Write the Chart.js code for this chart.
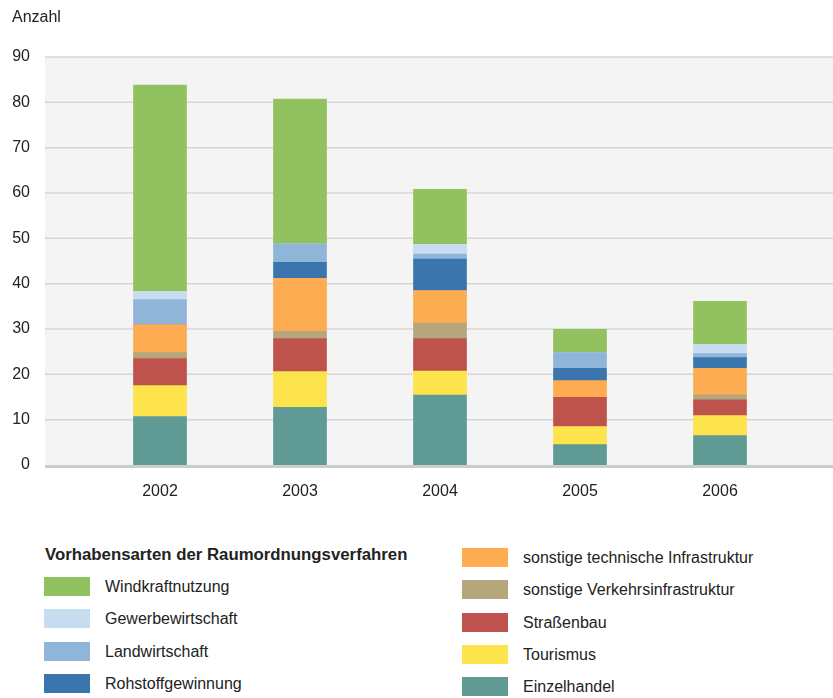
<!DOCTYPE html>
<html>
<head>
<meta charset="utf-8">
<script src="https://cdn.jsdelivr.net/npm/chart.js@4/dist/chart.umd.min.js"></script>
<style>
    body { margin: 0; background: #fff; font-family: "Liberation Sans", Arial, sans-serif; color: #222; }
    #wrap { position: relative; width: 833px; height: 698px; overflow: hidden; }
    #chart { position: absolute; left: 0; top: 0; }
    .unit { position: absolute; left: 12px; top: 8px; font-size: 16px; }
    .legendTitle { position: absolute; left: 45px; top: 545px; font-size: 16.8px; font-weight: bold; white-space: nowrap; }
    .item { position: absolute; height: 19px; font-size: 16px; white-space: nowrap; }
    .item .box { position: absolute; left: 0; top: 0; width: 46px; height: 19px; }
    .item span { position: absolute; left: 61px; top: 0; line-height: 19px; }
</style>
</head>
<body>
<div id="wrap">
    <canvas id="chart" width="833" height="521"></canvas>
    <div class="unit">Anzahl</div>
    <div class="legendTitle">Vorhabensarten der Raumordnungsverfahren</div>
    <div id="legend"></div>
</div>
<script>
const years = ['2002', '2003', '2004', '2005', '2006']

// values, bottom segment first
const einzelhandel   = [10.7, 12.7, 15.4, 4.5, 6.5]
const tourismus      = [6.8, 7.9, 5.3, 4.0, 4.4]
const strassenbau    = [6.0, 7.3, 7.2, 6.4, 3.5]
const verkehr        = [1.3, 1.6, 3.4, 0, 1.1]
const technisch      = [6.2, 11.7, 7.2, 3.7, 5.8]
const rohstoff       = [0, 3.5, 6.9, 2.7, 2.4]
const landwirtschaft = [5.5, 4.1, 1.1, 3.5, 0.9]
const gewerbe        = [1.8, 0, 2.2, 0, 2.0]
const windkraft      = [45.5, 31.9, 12.1, 5.1, 9.5]

const yTicks = [0, 10, 20, 30, 40, 50, 60, 70, 80, 90]

const series = [
    { label: 'Einzelhandel', data: einzelhandel, color: '#609a94' },
    { label: 'Tourismus', data: tourismus, color: '#fde34c' },
    { label: 'Straßenbau', data: strassenbau, color: '#bd534c' },
    { label: 'sonstige Verkehrsinfrastruktur', data: verkehr, color: '#b5a67c' },
    { label: 'sonstige technische Infrastruktur', data: technisch, color: '#fdac52' },
    { label: 'Rohstoffgewinnung', data: rohstoff, color: '#3a75ae' },
    { label: 'Landwirtschaft', data: landwirtschaft, color: '#8fb5d9' },
    { label: 'Gewerbewirtschaft', data: gewerbe, color: '#c8dcf0' },
    { label: 'Windkraftnutzung', data: windkraft, color: '#92c260' }
]

// legend columns as in the original
const leftColumn = ['Windkraftnutzung', 'Gewerbewirtschaft', 'Landwirtschaft', 'Rohstoffgewinnung']
const rightColumn = ['sonstige technische Infrastruktur', 'sonstige Verkehrsinfrastruktur', 'Straßenbau', 'Tourismus', 'Einzelhandel']

const legendEl = document.getElementById('legend')
function addItems(labels, x, y0) {
    labels.forEach((name, i) => {
        const s = series.find(d => d.label === name)
        const el = document.createElement('div')
        el.className = 'item'
        el.style.left = x + 'px'
        el.style.top = (y0 + i * 32.3) + 'px'
        el.innerHTML = '<div class="box" style="background:' + s.color + '"></div><span>' + name + '</span>'
        legendEl.appendChild(el)
    })
}
addItems(leftColumn, 44, 577)
addItems(rightColumn, 462, 548)

// grey plot background and grid that run past the category area
const plotBackground = {
    id: 'plotBackground',
    beforeDatasetsDraw(chart) {
        const ctx = chart.ctx
        const y = chart.scales.y
        const left = 45, right = 833
        const top = y.getPixelForValue(90)
        const bottom = y.getPixelForValue(0)
        ctx.save()
        ctx.fillStyle = '#f4f4f4'
        ctx.fillRect(left, top, right - left, bottom - top)
        ctx.strokeStyle = '#d6d6d6'
        ctx.lineWidth = 1.5
        yTicks.forEach(v => {
            if (v === 0) return
            const py = y.getPixelForValue(v)
            ctx.beginPath()
            ctx.moveTo(left, py)
            ctx.lineTo(right, py)
            ctx.stroke()
        })
        ctx.strokeStyle = '#cccccc'
        ctx.lineWidth = 3
        ctx.beginPath()
        ctx.moveTo(left, bottom + 1.5)
        ctx.lineTo(right, bottom + 1.5)
        ctx.stroke()
        ctx.restore()
    }
}

new Chart(document.getElementById('chart'), {
    type: 'bar',
    data: {
        labels: years,
        datasets: series.map(s => ({
            label: s.label,
            data: s.data,
            backgroundColor: s.color,
            borderWidth: 0,
            barThickness: 53
        }))
    },
    options: {
        responsive: false,
        animation: false,
        layout: { padding: { left: 12, right: 43, top: 57, bottom: 0 } },
        plugins: {
            legend: { display: false },
            tooltip: { enabled: false }
        },
        scales: {
            x: {
                stacked: true,
                border: { display: false },
                grid: { display: false, drawTicks: false },
                ticks: { padding: 17, color: '#222', font: { family: 'Liberation Sans', size: 16 } },
                afterFit(scale) { scale.height = 56 }
            },
            y: {
                stacked: true,
                min: 0,
                max: 90,
                border: { display: false },
                grid: { display: false, drawTicks: false },
                afterBuildTicks(scale) { scale.ticks = yTicks.map(v => ({ value: v })) },
                ticks: { padding: 60, color: '#222', font: { family: 'Liberation Sans', size: 16 } },
                afterFit(scale) {
                    // the big label gap should only push the labels left, not shrink the plot vertically
                    scale.width = 78
                    scale.paddingTop = 0
                    scale.paddingBottom = 0
                }
            }
        }
    },
    plugins: [plotBackground]
})
</script>
</body>
</html>
